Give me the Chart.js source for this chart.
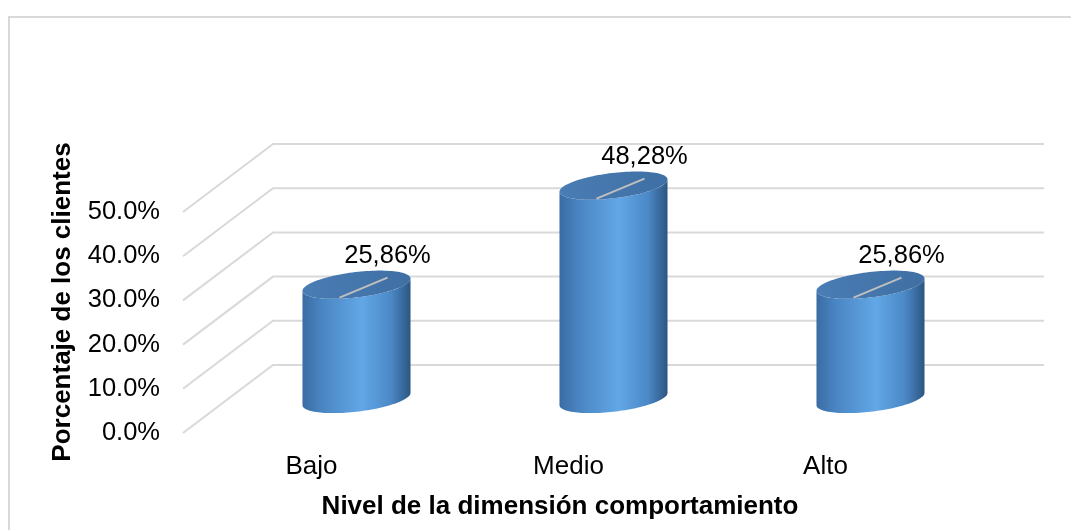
<!DOCTYPE html>
<html>
<head>
<meta charset="utf-8">
<script src="https://cdn.jsdelivr.net/npm/chart.js@4.4.1/dist/chart.umd.min.js"></script>
<style>
  html, body { margin: 0; padding: 0; background: #ffffff; }
  #wrap { width: 1071px; height: 530px; position: relative; }
</style>
</head>
<body>
<div id="wrap"><canvas id="c" width="1071" height="530"></canvas></div>
<script>
// Categories, values (percent of clients) and value-axis tick labels
const categories = ['Bajo', 'Medio', 'Alto'];
const percentages = [25.86, 48.28, 25.86];
const tickLabels = ['0.0%', '10.0%', '20.0%', '30.0%', '40.0%', '50.0%'];
const yTitle = 'Porcentaje de los clientes';
const xTitle = 'Nivel de la dimensión comportamiento';

// 3D look: depth offset of the back wall and cylinder shape
const DEPTH_X = 90, DEPTH_Y = -68;
const CYL_R = 48.7, CYL_EX = 0.48, CYL_EY = -0.29;
const FONT = '"Liberation Sans", Arial, sans-serif';

function fmtValue(v) {
  return v.toFixed(2).replace('.', ',') + '%';
}

const frame3d = {
  id: 'frame3d',
  beforeDraw(chart) {
    const ctx = chart.ctx;
    ctx.save();
    ctx.fillStyle = '#ffffff';
    ctx.fillRect(0, 0, chart.width, chart.height);
    ctx.strokeStyle = '#d9d9d9';
    ctx.lineWidth = 2;
    ctx.strokeRect(9, 17, 1200, 700);
    ctx.restore();
  },
  beforeDatasetsDraw(chart) {
    // floor-to-back-wall gridlines for each value tick
    const ctx = chart.ctx, y = chart.scales.y, a = chart.chartArea;
    ctx.save();
    ctx.strokeStyle = '#d9d9d9';
    ctx.lineWidth = 2;
    y.ticks.forEach(t => {
      const py = y.getPixelForValue(t.value);
      ctx.beginPath();
      ctx.moveTo(a.left, py);
      ctx.lineTo(a.left + DEPTH_X, py + DEPTH_Y);
      ctx.lineTo(a.right + DEPTH_X, py + DEPTH_Y);
      ctx.stroke();
    });
    ctx.restore();
  },
  afterDatasetsDraw(chart) {
    const ctx = chart.ctx, y = chart.scales.y;
    const meta = chart.getDatasetMeta(0);
    const vals = chart.data.datasets[0].data;
    const tr = Math.atan(CYL_EX);
    const half = CYL_R * Math.sqrt(1 + CYL_EX * CYL_EX);
    const pt = (cx, cy, t) => [cx + CYL_R * Math.cos(t) + CYL_R * CYL_EX * Math.sin(t),
                               cy + CYL_R * CYL_EY * Math.sin(t)];
    meta.data.forEach((bar, i) => {
      const cx = bar.x + DEPTH_X / 2;
      const baseY = y.getPixelForValue(0) + DEPTH_Y / 2;
      const topY = y.getPixelForValue(vals[i]) + DEPTH_Y / 2;
      ctx.save();
      // side of the cylinder
      const g = ctx.createLinearGradient(cx - half, 0, cx + half, 0);
      g.addColorStop(0, '#3a6ca3');
      g.addColorStop(0.18, '#4a85c3');
      g.addColorStop(0.55, '#62a7e7');
      g.addColorStop(0.82, '#4b88c6');
      g.addColorStop(1, '#2c5682');
      ctx.fillStyle = g;
      ctx.beginPath();
      let p = pt(cx, topY, tr - Math.PI);
      ctx.moveTo(p[0], p[1]);
      const steps = 60;
      for (let k = 0; k <= steps; k++) {
        const t = tr - Math.PI + Math.PI * k / steps;
        p = pt(cx, baseY, t);
        ctx.lineTo(p[0], p[1]);
      }
      for (let k = 0; k <= steps; k++) {
        const t = tr - Math.PI * k / steps;
        p = pt(cx, topY, t);
        ctx.lineTo(p[0], p[1]);
      }
      ctx.closePath();
      ctx.fill();
      // top cap
      const gt = ctx.createLinearGradient(cx - half, 0, cx + half, 0);
      gt.addColorStop(0, '#4a7db5');
      gt.addColorStop(1, '#3f6fa3');
      ctx.fillStyle = gt;
      ctx.beginPath();
      for (let k = 0; k <= 120; k++) {
        const t = Math.PI * 2 * k / 120;
        p = pt(cx, topY, t);
        if (k === 0) ctx.moveTo(p[0], p[1]); else ctx.lineTo(p[0], p[1]);
      }
      ctx.closePath();
      ctx.fill();
      // value label with leader line
      const lx = cx + 31, ly = topY - 29;
      ctx.strokeStyle = '#bfbfbf';
      ctx.lineWidth = 2;
      ctx.beginPath();
      ctx.moveTo(cx - 17, topY + 13);
      ctx.lineTo(cx + 31, topY - 7);
      ctx.stroke();
      ctx.fillStyle = '#000000';
      ctx.font = '25.5px ' + FONT;
      ctx.textAlign = 'center';
      ctx.textBaseline = 'middle';
      ctx.fillText(fmtValue(vals[i]), lx, ly);
      ctx.restore();
    });
  },
  afterDraw(chart) {
    const ctx = chart.ctx;
    ctx.save();
    ctx.fillStyle = '#000000';
    ctx.font = 'bold 26px ' + FONT;
    ctx.textAlign = 'center';
    ctx.textBaseline = 'middle';
    ctx.fillText(xTitle, 560, 507);
    ctx.translate(63, 302);
    ctx.rotate(-Math.PI / 2);
    ctx.fillText(yTitle, 0, 0);
    ctx.restore();
  }
};

new Chart(document.getElementById('c'), {
  type: 'bar',
  data: {
    labels: categories,
    datasets: [{
      data: percentages,
      backgroundColor: 'rgba(0,0,0,0)',
      borderWidth: 0
    }]
  },
  options: {
    responsive: false,
    animation: false,
    devicePixelRatio: 1,
    layout: { padding: { top: 212, right: 117, left: 0, bottom: 0 } },
    plugins: { legend: { display: false }, tooltip: { enabled: false } },
    scales: {
      x: {
        grid: { display: false, drawTicks: false },
        border: { display: false },
        ticks: { padding: 18, color: '#000000', font: { family: FONT, size: 26 } },
        afterFit(s) { s.height = 97; }
      },
      y: {
        min: 0, max: 50,
        grid: { display: false, drawTicks: false },
        border: { display: false },
        ticks: {
          stepSize: 10,
          padding: 23,
          color: '#000000',
          font: { family: FONT, size: 25.5 },
          callback: (v) => tickLabels[Math.round(v / 10)]
        },
        afterFit(s) { s.width = 183; }
      }
    }
  },
  plugins: [frame3d]
});
</script>
</body>
</html>
